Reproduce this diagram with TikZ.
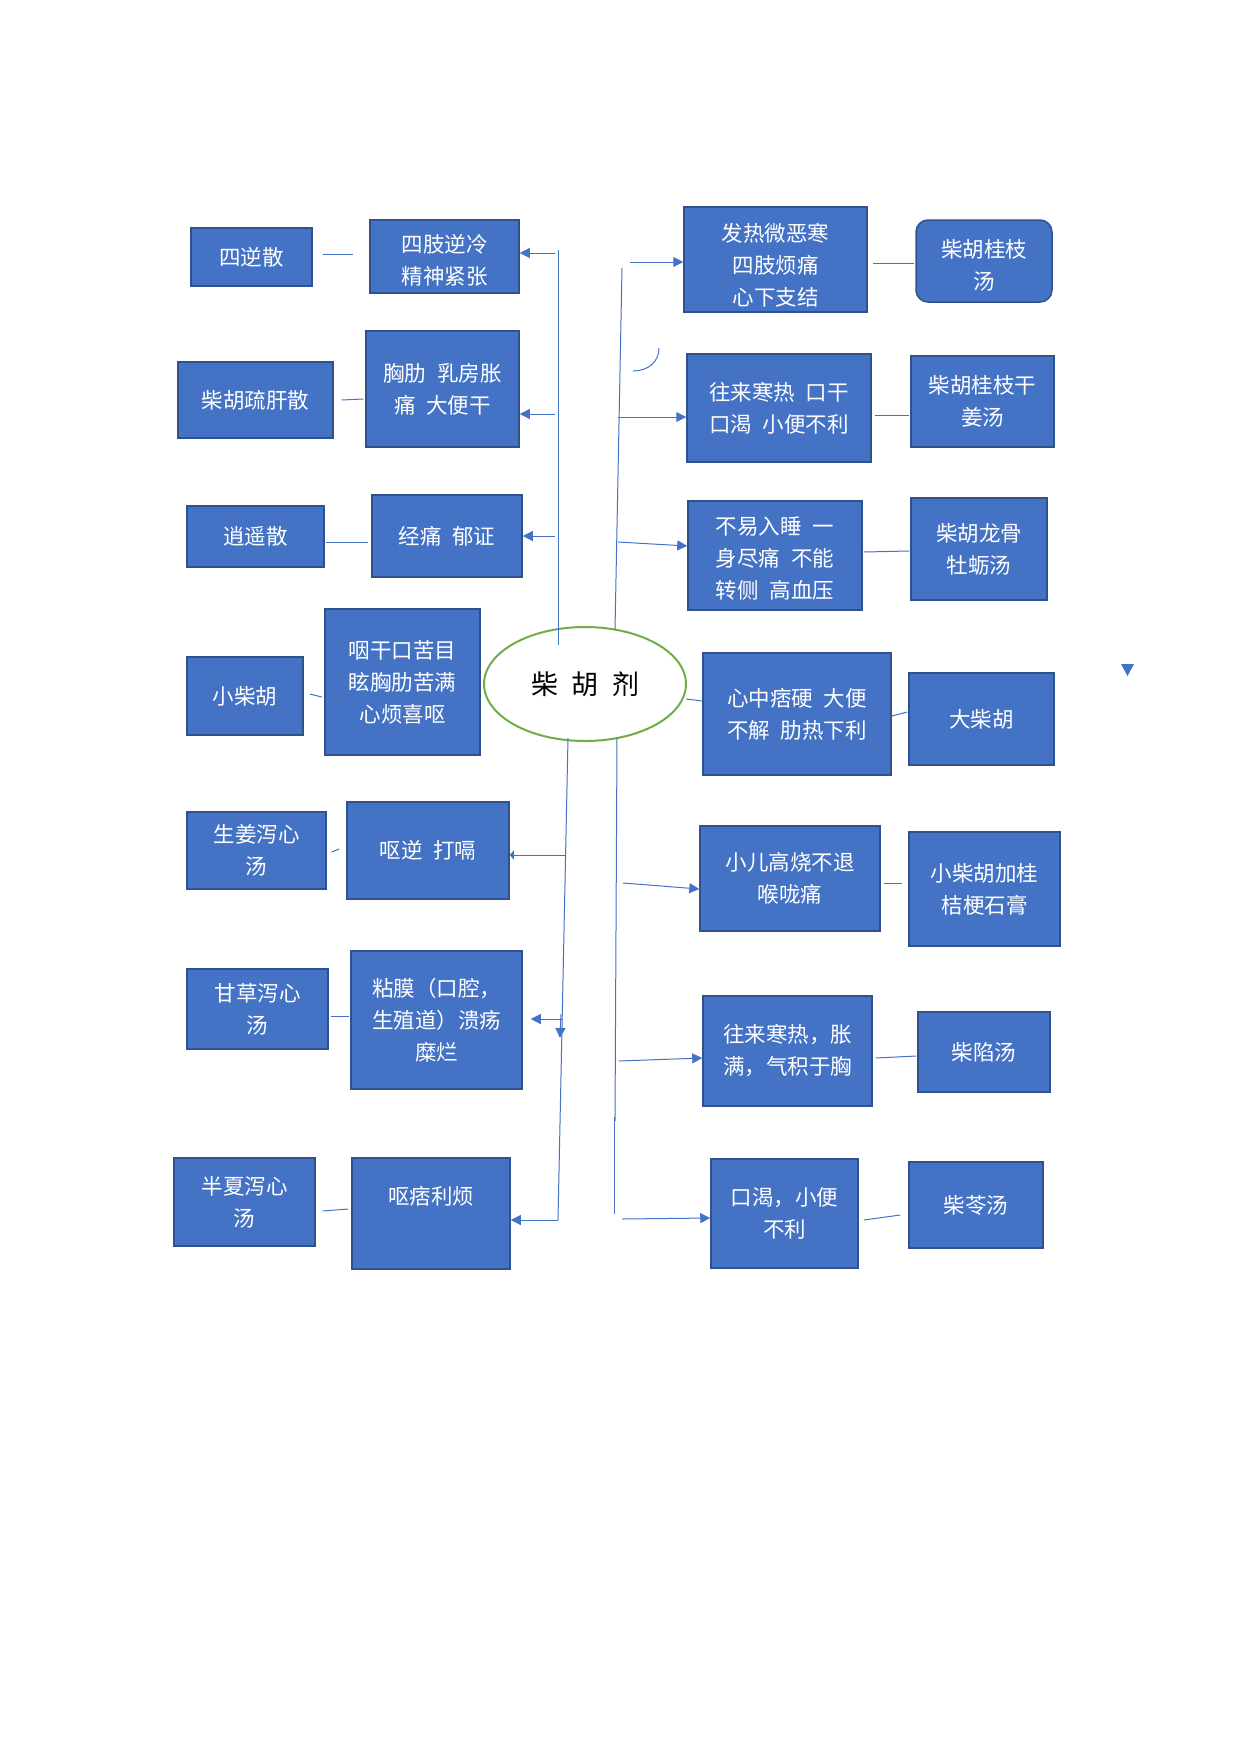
\documentclass[tikz,border=0pt]{standalone}
\usepackage{fontspec}
\setmainfont{Noto Sans CJK SC}
\usetikzlibrary{shapes.geometric,arrows.meta,positioning,calc}
\definecolor{blue1}{RGB}{68,114,196}
\definecolor{blue2}{RGB}{47,82,143}
\definecolor{green1}{RGB}{112,173,71}
\tikzset{sz/.style 2 args={minimum width=#1pt, minimum height=#2pt}}

\begin{document}
\begin{tikzpicture}[x=1pt, y=-1pt,
    box/.style={draw=blue2, line width=1.5pt, fill=blue1, text=white, align=center, inner sep=0pt, font=\fontsize{21.5}{32}\selectfont},
    link/.style={draw=blue1, line width=1pt},
    >={Triangle[length=10pt, width=10pt]}]
    \useasboundingbox (0,0) rectangle (1240,1754);

    % left side
    \node[box, sz={121}{58}] (sini) at (251.5,257) {四逆散};
    \node[box, sz={149}{73}, text height=58pt] (sizhi) at (444.5,256.5) {四肢逆冷\\精神紧张};
    \node[box, sz={155}{76}] (shugan) at (255.5,400) {柴胡疏肝散};
    \node[box, sz={153}{116}] (xionglei) at (442.5,389) {胸肋\enspace 乳房胀\\痛\enspace 大便干};
    \node[box, sz={137}{61}] (xiaoyao) at (255.5,536.5) {逍遥散};
    \node[box, sz={150}{82}] (jingtong) at (447,536) {经痛\enspace 郁证};
    \node[box, sz={116}{78}] (xiaochai) at (245,696) {小柴胡};
    \node[box, sz={155}{146}] (yangan) at (402.5,682) {咽干口苦目\\眩胸肋苦满\\心烦喜呕};
    \node[box, sz={139}{77}] (shengjiang) at (256.5,850.5) {生姜泻心\\汤};
    \node[box, sz={162}{97}] (ouni) at (428,850.5) {呕逆\enspace 打嗝};
    \node[box, sz={141}{80}] (gancao) at (257.5,1009) {甘草泻心\\汤};
    \node[box, sz={171}{138}] (nianmo) at (436.5,1020) {粘膜（口腔，\\生殖道）溃疡\\糜烂};
    \node[box, sz={141}{88}] (banxia) at (244.5,1202) {半夏泻心\\汤};
    \node[box, sz={158}{111}, text depth=37pt] (oupi) at (431,1213.5) {呕痞利烦};

    % centre
    \node[ellipse, draw=green1, line width=2pt, fill=white, sz={202}{114}, inner sep=0pt, font=\fontsize{27}{30}\selectfont] (chaihu) at (585,684) {柴\enspace 胡\enspace 剂};

    % right side
    \node[box, sz={183}{105}, text height=93pt] (fare) at (775.5,259.5) {发热微恶寒\\四肢烦痛\\心下支结};
    \node[box, sz={136}{82}, rounded corners=12pt, text height=58pt] (guizhi) at (984,261) {柴胡桂枝\\汤};
    \node[box, sz={184}{108}] (wanglai) at (779,408) {往来寒热\enspace 口干\\口渴\enspace 小便不利};
    \node[box, sz={143}{91}] (ganjiang) at (982.5,401.5) {柴胡桂枝干\\姜汤};
    \node[box, sz={174}{109}, text height=87pt] (buyi) at (775,555.5) {不易入睡\enspace 一\\身尽痛\enspace 不能\\转侧\enspace 高血压};
    \node[box, sz={136}{102}] (longgu) at (979,549) {柴胡龙骨\\牡蛎汤};
    \node[box, sz={188}{122}] (xinzhong) at (797,714) {心中痞硬\enspace 大便\\不解\enspace 肋热下利};
    \node[box, sz={145}{92}] (dachai) at (981.5,719) {大柴胡};
    \node[box, sz={180}{105}] (xiaoer) at (790,878.5) {小儿高烧不退\\喉咙痛};
    \node[box, sz={151}{114}] (jiagui) at (984.5,889) {小柴胡加桂\\桔梗石膏};
    \node[box, sz={169}{110}] (wanglai2) at (787.5,1051) {往来寒热，胀\\满，气积于胸};
    \node[box, sz={132}{80}] (chaixian) at (984,1052) {柴陷汤};
    \node[box, sz={147}{109}] (kouke) at (784.5,1213.5) {口渴，小便\\不利};
    \node[box, sz={134}{86}] (chailing) at (976,1205) {柴苓汤};

    % trunk lines
    \coordinate (lt) at (558,250);
    \coordinate (lb) at (558,645);
    \coordinate (lt2) at (568,738);
    \coordinate (lb2) at (558,1220);
    \coordinate (rt) at (622,268);
    \coordinate (rb) at (615,630);
    \coordinate (rt2) at (617,738);
    \coordinate (rb2) at (615,1121);
    \coordinate (rt3) at (614,1117);
    \coordinate (rb3) at (614,1214);
    \draw[link] (lt) -- (lb);
    \draw[link] (lt2) -- (lb2);
    \draw[link] (rt) -- (rb);
    \draw[link] (rt2) -- (rb2);
    \draw[link] (rt3) -- (rb3);

    % arrows from the trunks
    \coordinate (l1) at (555,253);
    \coordinate (l2) at (555,414);
    \coordinate (l3) at (555,536);
    \coordinate (l4) at (566,855);
    \coordinate (l5) at (563,1019);
    \coordinate (l6) at (561,1014);
    \coordinate (l6e) at (560,1038);
    \draw[link, ->] (l1) -- (l1 -| sizhi.east);
    \draw[link, ->] (l2) -- (l2 -| xionglei.east);
    \draw[link, ->] (l3) -- (l3 -| jingtong.east);
    \draw[link, -{Triangle[length=4pt, width=9pt]}] (l4) -- (l4 -| ouni.east);
    \draw[link, ->, shorten >=8pt] (l5) -- (l5 -| nianmo.east);
    \draw[link, ->] (l6) -- (l6e);
    \draw[link, ->] (lb2) -- (lb2 -| oupi.east);

    \coordinate (r1) at (630,262);
    \coordinate (r2) at (618,417);
    \coordinate (r3) at (618,542);
    \coordinate (r4) at (623,883);
    \coordinate (r5) at (619,1061);
    \coordinate (r6) at (622,1219);
    \draw[link, ->] (r1) -- (r1 -| fare.west);
    \draw[link, ->] (r2) -- (r2 -| wanglai.west);
    \draw[link, ->] (r3) -- ([yshift=9.5pt]buyi.west);
    \draw[link, ->] (r4) -- ([yshift=-10.5pt]xiaoer.west);
    \draw[link, ->] (r5) -- ([yshift=-7pt]wanglai2.west);
    \draw[link, ->] (r6) -- ([yshift=-4.5pt]kouke.west);

    % short links between boxes
    \draw[link] ([xshift=10pt, yshift=3pt]sini.east) -- ([xshift=-16pt, yshift=2.5pt]sizhi.west);
    \draw[link] ([xshift=8pt]shugan.east) -- ([xshift=-2pt, yshift=-10pt]xionglei.west);
    \draw[link] ([xshift=1pt, yshift=-5.5pt]xiaoyao.east) -- ([xshift=-3pt, yshift=-6pt]jingtong.west);
    \draw[link] ([xshift=6pt, yshift=2pt]xiaochai.east) -- ([xshift=-2.5pt, yshift=-15pt]yangan.west);
    \draw[link] ([xshift=5pt, yshift=-1.5pt]shengjiang.east) -- ([xshift=-7pt, yshift=1.5pt]ouni.west);
    \draw[link] ([xshift=2pt, yshift=-7pt]gancao.east) -- ([xshift=-1pt, yshift=4pt]nianmo.west);
    \draw[link] ([xshift=7pt, yshift=-9pt]banxia.east) -- ([xshift=-3pt, yshift=4.5pt]oupi.west);
    \draw[link] ([xshift=5pt, yshift=-3.5pt]fare.east) -- ([xshift=-1pt, yshift=-2pt]guizhi.west);
    \draw[link] ([xshift=3pt, yshift=-7pt]wanglai.east) -- ([xshift=-1pt, yshift=-13.5pt]ganjiang.west);
    \draw[link] ([xshift=1pt, yshift=3.5pt]buyi.east) -- ([xshift=-1pt, yshift=-2pt]longgu.west);
    \draw[link] ([xshift=-1pt, yshift=-15pt]chaihu.east) -- ([yshift=13pt]xinzhong.west);
    \draw[link] ([yshift=-2pt]xinzhong.east) -- ([xshift=-1pt, yshift=7pt]dachai.west);
    \draw[link] ([xshift=3pt, yshift=-4.5pt]xiaoer.east) -- ([xshift=-6pt, yshift=6pt]jiagui.west);
    \draw[link] ([xshift=3pt, yshift=-7pt]wanglai2.east) -- ([xshift=-1pt, yshift=-4pt]chaixian.west);
    \draw[link] ([xshift=5pt, yshift=-6.5pt]kouke.east) -- ([xshift=-8pt, yshift=-10pt]chailing.west);

    % stray marks
    \draw[link] (659,348) .. controls (659,362) and (648,371) .. (633,371);
    \fill[blue1] (1121,664) -- (1134,664) -- (1127.5,676) -- cycle;
\end{tikzpicture}
\end{document}
